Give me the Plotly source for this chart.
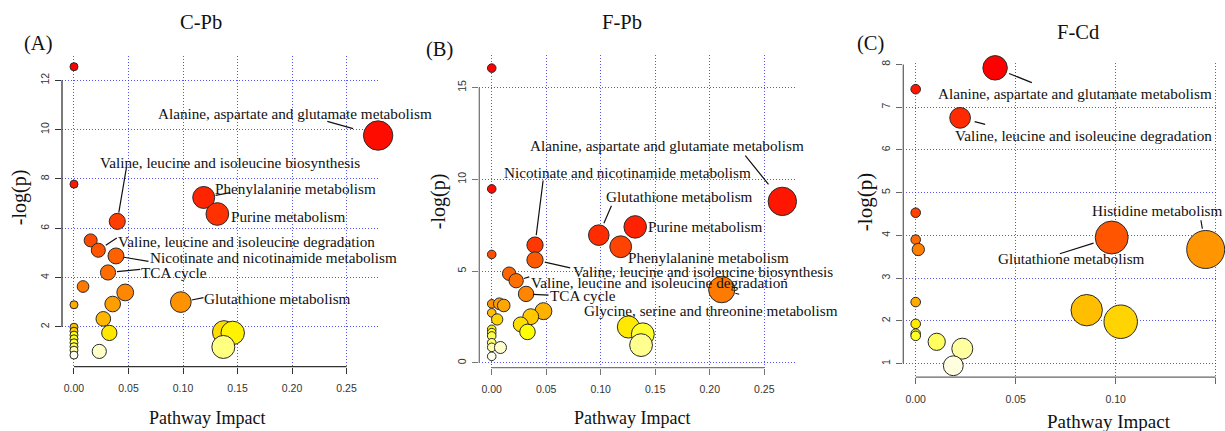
import colorsys
import numpy as np
import plotly.graph_objects as go

W, H = 1225, 431

# ---- C-Pb pathway analysis: impact vs -log(p) ----
cpb_impact = [0, 0, 0, 0, 0, 0, 0, 0, 0, 0, 0,
              0.0083, 0.0153, 0.0223, 0.0397, 0.0385, 0.0312, 0.047, 0.0355,
              0.0269, 0.0324, 0.0232, 0.098, 0.119, 0.1315, 0.279, 0.1376,
              0.1456, 0.137]
cpb_logp = [12.55, 7.79, 2.90, 1.99, 1.83, 1.67, 1.52, 1.36, 1.20, 1.06, 0.86,
            3.64, 5.51, 5.11, 6.28, 4.88, 4.21, 3.40, 2.93,
            2.33, 1.76, 1.01, 3.01, 7.25, 6.58, 9.76, 1.79,
            1.76, 1.19]

# ---- F-Pb ----
fpb_impact = [0, 0, 0, 0, 0, 0, 0, 0, 0, 0, 0,
              0.007, 0.011, 0.005, 0.008, 0.016, 0.0224, 0.0315, 0.0397, 0.0397,
              0.0474, 0.0358, 0.0266, 0.0328, 0.0982, 0.1183, 0.1316, 0.2666,
              0.211, 0.1254, 0.1386, 0.137]
fpb_logp = [16.06, 9.48, 5.91, 3.22, 2.73, 1.83, 1.65, 1.47, 1.10, 0.85, 0.36,
            3.22, 3.13, 2.37, 0.84, 4.86, 4.48, 3.76, 6.42, 5.61,
            2.82, 2.52, 2.10, 1.69, 6.96, 6.33, 7.41, 8.80,
            3.99, 1.96, 1.56, 0.97]

# ---- F-Cd ----
fcd_impact = [0, 0.0397, 0.0222, 0, 0, 0.0013, 0, 0, 0, 0,
              0.0105, 0.0233, 0.0188, 0.098, 0.145, 0.0855, 0.1025]
fcd_logp = [7.42, 7.92, 6.75, 4.53, 3.90, 3.67, 2.44, 1.93, 1.70, 1.65,
            1.51, 1.35, 0.95, 3.95, 3.67, 2.25, 1.98]

# labelled pathways: (index into the panel arrays, name)
cpb_names = [(25, "Alanine, aspartate and glutamate metabolism"),
             (14, "Valine, leucine and isoleucine biosynthesis"),
             (23, "Phenylalanine metabolism"),
             (24, "Purine metabolism"),
             (13, "Valine, leucine and isoleucine degradation"),
             (15, "Nicotinate and nicotinamide metabolism"),
             (16, "TCA cycle"),
             (22, "Glutathione metabolism")]
fpb_names = [(27, "Alanine, aspartate and glutamate metabolism"),
             (18, "Nicotinate and nicotinamide metabolism"),
             (24, "Glutathione metabolism"),
             (26, "Purine metabolism"),
             (25, "Phenylalanine metabolism"),
             (19, "Valine, leucine and isoleucine biosynthesis"),
             (16, "Valine, leucine and isoleucine degradation"),
             (17, "TCA cycle"),
             (28, "Glycine, serine and threonine metabolism")]
fcd_names = [(1, "Alanine, aspartate and glutamate metabolism"),
             (2, "Valine, leucine and isoleucine degradation"),
             (14, "Histidine metabolism"),
             (13, "Glutathione metabolism")]

# label placement per panel: text centre (x, y), leader start (x, y) or None, gap at the bubble
cpb_place = [((0.2028, 10.67), (0.231, 10.35), 26),
             ((0.1427, 8.67), (0.0483, 8.51), 9),
             ((0.2032, 7.62), (0.1447, 7.46), 12),
             ((0.1972, 6.46), None, 0),
             ((0.1587, 5.47), (0.0406, 5.65), 9),
             ((0.1826, 4.83), (0.0697, 4.65), 8),
             ((0.0917, 4.21), (0.0621, 4.34), 9),
             ((0.1867, 3.16), (0.1202, 3.20), 11)]
fpb_place = [((0.1604, 11.83), (0.2315, 11.37), 22),
             ((0.1241, 10.38), (0.0473, 10.02), 10),
             ((0.1718, 9.08), (0.1104, 8.65), 13),
             ((0.1961, 7.41), None, 0),
             ((0.1984, 5.74), None, 0),
             ((0.1934, 4.98), (0.0734, 5.16), 10),
             ((0.1540, 4.39), (0.0358, 4.71), 8),
             ((0.0833, 3.69), (0.0535, 3.69), 7),
             ((0.2012, 2.88), (0.2284, 3.72), 14)]
fcd_place = [((0.0794, 7.33), (0.0588, 7.56), 15),
             ((0.0839, 6.33), (0.0355, 6.59), 15),
             ((0.1208, 4.59), (0.1425, 4.39), 21),
             ((0.0779, 3.45), (0.0713, 3.56), 19)]


def heat_colors(n):
    """R's heat.colors(n)."""
    j = n // 4
    i = n - j
    cols = []
    for h in np.linspace(0, 1 / 6, i):
        cols.append(colorsys.hsv_to_rgb(h, 1, 1))
    if j > 0:
        for s in np.linspace(1 - 1 / (2 * j), 1 / (2 * j), j):
            cols.append(colorsys.hsv_to_rgb(1 / 6, s, 1))
    return ["rgb(%d,%d,%d)" % (round(r * 255), round(g * 255), round(b * 255)) for r, g, b in cols]


def rank_colors(logp):
    n = len(logp)
    pal = heat_colors(n)
    order = np.argsort(-np.asarray(logp), kind="stable")
    out = [None] * n
    for rank, idx in enumerate(order):
        out[idx] = pal[rank]
    return out


def radii(impact, rmin, span):
    imp = np.asarray(impact, dtype=float)
    return rmin + span * np.sqrt(imp / imp.max())


panels = [
    dict(imp=cpb_impact, lp=cpb_logp, names=cpb_names, place=cpb_place, r=(4, 10.7),
         xdom=(62, 379), ydom=(52, 366), xr=[-0.011, 0.2798], yr=[0.394, 13.004],
         xt=[0, 0.05, 0.10, 0.15, 0.20, 0.25], yt=[2, 4, 6, 8, 10, 12], axc="#333333",
         title="C-Pb", tpos=(201, 18), tag="(A)", tagpos=(38, 40),
         xlab=(207, 418), ylab=(19, 195), labsize=18),
    dict(imp=fpb_impact, lp=fpb_logp, names=fpb_names, place=fpb_place, r=(4.3, 9.9),
         xdom=(479.3, 795), ydom=(51.7, 367), xr=[-0.0114, 0.2782], yr=[-0.254, 16.762],
         xt=[0, 0.05, 0.10, 0.15, 0.20, 0.25], yt=[0, 5, 10, 15], axc="#777777",
         title="F-Pb", tpos=(622, 18), tag="(B)", tagpos=(439, 46),
         xlab=(632, 418), ylab=(438, 199), labsize=18),
    dict(imp=fcd_impact, lp=fcd_logp, names=fcd_names, place=fcd_place, r=(4.8, 14.2),
         xdom=(903.3, 1217), ydom=(60, 376.7), xr=[-0.0062, 0.15065], yr=[0.682, 8.023],
         xt=[0, 0.05, 0.10, 0.15], yt=[1, 2, 3, 4, 5, 6, 7, 8], axc="#666666",
         title="F-Cd", tpos=(1078, 28), tag="(C)", tagpos=(870, 40),
         xlab=(1109, 421), ylab=(865, 200), labsize=19),
]

SERIF = "Liberation Serif, Times New Roman, serif"
SANS = "Liberation Sans, Arial, sans-serif"
GRID = "rgba(40,40,255,0.8)"

fig = go.Figure()
annotations = []
shapes = []

for k, p in enumerate(panels, start=1):
    xa = "x" if k == 1 else "x%d" % k
    ya = "y" if k == 1 else "y%d" % k
    rad = radii(p["imp"], *p["r"])
    fig.add_trace(go.Scatter(
        x=p["imp"], y=p["lp"], mode="markers", xaxis=xa, yaxis=ya,
        cliponaxis=False, showlegend=False, hoverinfo="x+y",
        marker=dict(size=2 * rad, color=rank_colors(p["lp"]),
                    line=dict(color="#2a2a2a", width=1), opacity=1),
    ))

    axkey = "xaxis" if k == 1 else "xaxis%d" % k
    aykey = "yaxis" if k == 1 else "yaxis%d" % k
    fig.update_layout(**{
        axkey: dict(domain=[p["xdom"][0] / W, p["xdom"][1] / W], range=p["xr"],
                    anchor=ya, tickvals=p["xt"], tickformat=".2f",
                    showgrid=True, gridcolor=GRID, griddash="1px,2px", gridwidth=1,
                    zeroline=False, showline=False, ticks="outside", ticklen=6,
                    tickcolor=p["axc"], ticklabelstandoff=6,
                    tickfont=dict(family=SANS, size=10.5, color="#333333")),
        aykey: dict(domain=[1 - p["ydom"][1] / H, 1 - p["ydom"][0] / H], range=p["yr"],
                    anchor=xa, tickvals=p["yt"], tickangle=-90,
                    showgrid=True, gridcolor=GRID, griddash="1px,2px", gridwidth=1,
                    zeroline=False, showline=False, ticks="outside", ticklen=6,
                    tickcolor=p["axc"], ticklabelstandoff=2,
                    tickfont=dict(family=SANS, size=10.5, color="#333333")),
    })

    # detached R-style axis lines spanning first to last tick
    shapes.append(dict(type="line", xref=xa, yref=ya + " domain",
                       x0=p["xt"][0], x1=p["xt"][-1], y0=0, y1=0,
                       line=dict(color=p["axc"], width=1.3)))
    shapes.append(dict(type="line", xref=xa + " domain", yref=ya,
                       x0=0, x1=0, y0=p["yt"][0], y1=p["yt"][-1],
                       line=dict(color=p["axc"], width=1.3)))

    # pathway labels and leader lines
    for (idx, name), (tpos, lead, gap) in zip(p["names"], p["place"]):
        annotations.append(dict(xref=xa, yref=ya, x=tpos[0], y=tpos[1], text=name,
                                showarrow=False, xanchor="center", yanchor="middle",
                                font=dict(family=SERIF, size=15.2, color="#111111")))
        if lead is not None:
            annotations.append(dict(xref=xa, yref=ya, axref=xa, ayref=ya,
                                    x=p["imp"][idx], y=p["lp"][idx],
                                    ax=lead[0], ay=lead[1], text="",
                                    showarrow=True, arrowhead=0, arrowwidth=1.2,
                                    arrowcolor="#111111", standoff=gap))

    def paper(pt):
        return pt[0] / W, 1 - pt[1] / H

    tx, ty = paper(p["tpos"])
    annotations.append(dict(xref="paper", yref="paper", x=tx, y=ty, text=p["title"],
                            showarrow=False, xanchor="center", yanchor="middle",
                            font=dict(family=SERIF, size=20.5, color="#111111")))
    gx, gy = paper(p["tagpos"])
    annotations.append(dict(xref="paper", yref="paper", x=gx, y=gy, text=p["tag"],
                            showarrow=False, xanchor="center", yanchor="middle",
                            font=dict(family=SERIF, size=20.5, color="#111111")))
    lx, ly = paper(p["xlab"])
    annotations.append(dict(xref="paper", yref="paper", x=lx, y=ly, text="Pathway Impact",
                            showarrow=False, xanchor="center", yanchor="middle",
                            font=dict(family=SERIF, size=p["labsize"], color="#111111")))
    vx, vy = paper(p["ylab"])
    annotations.append(dict(xref="paper", yref="paper", x=vx, y=vy, text="-log(p)",
                            showarrow=False, xanchor="center", yanchor="middle", textangle=-90,
                            font=dict(family=SERIF, size=p["labsize"] + 2, color="#111111")))

fig.update_layout(width=W, height=H, margin=dict(l=0, r=0, t=0, b=0),
                  paper_bgcolor="white", plot_bgcolor="white",
                  annotations=annotations, shapes=shapes, showlegend=False)

fig.write_html("out.html")
